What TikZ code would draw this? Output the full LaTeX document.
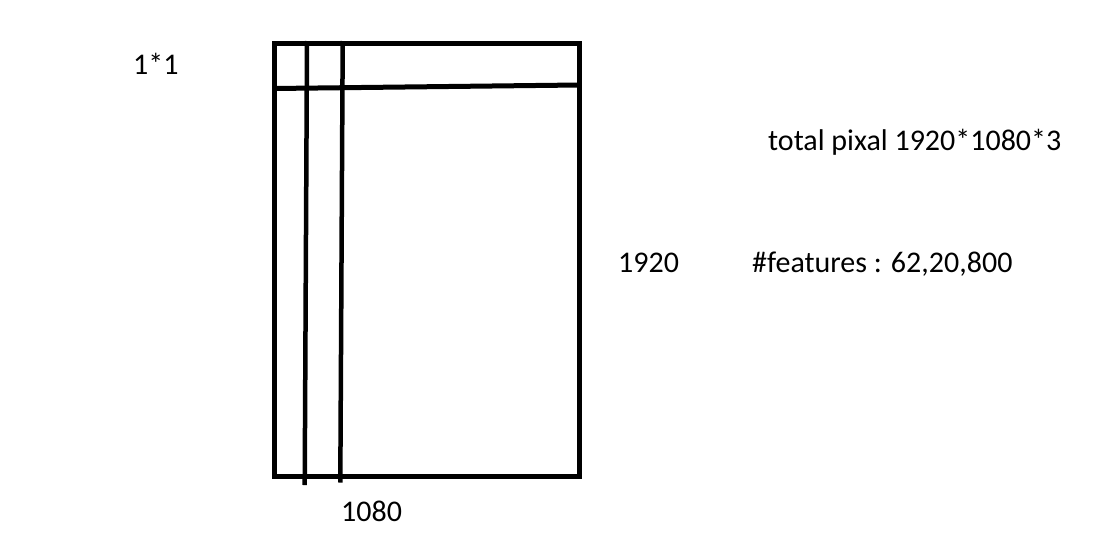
\documentclass[tikz,border=0pt]{standalone}
\usepackage{fontspec}
\setmainfont{Carlito}
\begin{document}
\begin{tikzpicture}[x=1pt,y=-1pt,
  pen/.style={line width=5pt, line cap=butt},
  lbl/.style={anchor=base west, inner sep=0pt, font=\fontsize{30}{35}\selectfont}]
\useasboundingbox (0,0) rectangle (1110,544);
\draw[pen, line join=miter] (274,43.5) rectangle (579,476);
\draw[pen] (274,88.5) -- (579,85);
\draw[line width=4.5pt] (307,41) -- (304.7,485);
\draw[line width=4.5pt] (342.7,41) -- (340.3,482.5);
\node[lbl] (one) at (133,74.5) {1*1};
\node[lbl] (total) at (768,150) {total pixal 1920*1080*3};
\node[lbl] (h) at (618,272) {1920};
\node[lbl] (feat) at (752,272) {\#features : 62,20,800};
\node[lbl] (w) at (341,521) {1080};
\end{tikzpicture}
\end{document}
